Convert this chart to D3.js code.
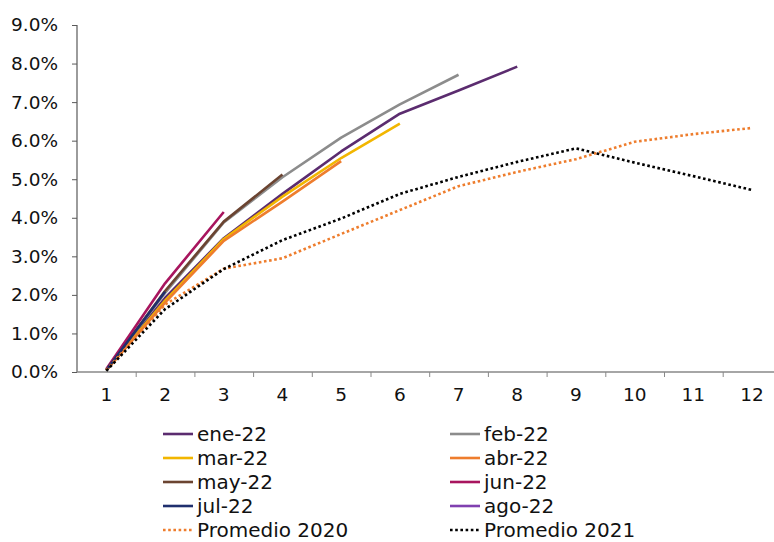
<!DOCTYPE html>
<html><head><meta charset="utf-8">
<script src="https://cdn.jsdelivr.net/npm/d3@7"></script>
<style>body{margin:0;background:#fff}svg{display:block}</style>
</head><body>
<svg id="chart" width="774" height="542"></svg>
<script>
const months = [1,2,3,4,5,6,7,8,9,10,11,12];
const yTicks = [0,1,2,3,4,5,6,7,8,9];
const seriesNames = ["ene-22","feb-22","mar-22","abr-22","may-22","jun-22","jul-22","ago-22","Promedio 2020","Promedio 2021"];
const ene22 = [0.05, 1.92, 3.47, 4.62, 5.72, 6.70, 7.30, 7.92];
const feb22 = [0.05, 2.05, 3.88, 5.05, 6.08, 6.94, 7.71];
const mar22 = [0.05, 1.85, 3.45, 4.55, 5.55, 6.44];
const abr22 = [0.05, 1.80, 3.40, 4.42, 5.47];
const may22 = [0.05, 2.10, 3.90, 5.12];
const jun22 = [0.08, 2.30, 4.15];
const jul22 = [0.05, 2.08];
const ago22 = [0.10];
const prom2020 = [0.05, 1.75, 2.68, 2.95, 3.58, 4.20, 4.82, 5.19, 5.52, 5.97, 6.17, 6.33];
const prom2021 = [0.03, 1.63, 2.67, 3.42, 3.98, 4.62, 5.06, 5.45, 5.80, 5.43, 5.08, 4.72];

const colors = ["#5B2C6F","#8C8C8C","#F2B600","#EE7D2D","#6B4431","#A8155E","#1F2F6E","#8040B0","#EE7D2D","#000000"];
const dashed = [false,false,false,false,false,false,false,false,true,true];
const allData = [ene22,feb22,mar22,abr22,may22,jun22,jul22,ago22,prom2020,prom2021];

const svg = d3.select("#chart");
const font = "'DejaVu Sans', Verdana, sans-serif";

const x = d3.scaleBand().domain(months).range([77, 781.4]);
const xb = d3.scaleLinear().domain([0.5, 12.5]).range([77, 781.4]);
const y = d3.scaleLinear().domain([0, 9]).range([372, 25]);

// y axis
const ya = svg.append("g").attr("transform","translate(77,0)")
  .call(d3.axisLeft(y).tickValues(yTicks).tickSize(5).tickPadding(14).tickFormat(d => d3.format(".1f")(d) + "%"));
ya.select(".domain").attr("stroke","#595959").attr("stroke-width",1.2).attr("d","M0,25V372");
ya.selectAll(".tick line").attr("stroke","#595959");
ya.selectAll("text").attr("font-family",font).attr("font-size","18.5px").attr("fill","#111");

// x axis boundary ticks
const xa = svg.append("g").attr("transform","translate(0,372)")
  .call(d3.axisBottom(xb).tickValues(d3.range(1.5, 12.5, 1)).tickSize(5).tickFormat(""));
xa.select(".domain").attr("stroke","#898989").attr("stroke-width",1.5).attr("d","M77,0H781");
xa.selectAll(".tick line").attr("stroke","#898989");

// x labels
const xl = svg.append("g").attr("transform","translate(0,372)")
  .call(d3.axisBottom(x).tickSize(0).tickPadding(16));
xl.select(".domain").remove();
xl.selectAll("text").attr("font-family",font).attr("font-size","18.5px").attr("fill","#111");

// lines
const line = d3.line().x((d,i) => x(months[i]) + x.bandwidth()/2).y(d => y(d));
allData.forEach((vals, k) => {
  const p = svg.append("path").datum(vals).attr("d", line)
    .attr("fill","none").attr("stroke",colors[k]).attr("stroke-width",2.6)
    .attr("stroke-linejoin","round");
  if (dashed[k]) p.attr("stroke-dasharray","2.6,2.6");
});

// legend
const lg = svg.append("g");
seriesNames.forEach((name, k) => {
  const col = k % 2, row = Math.floor(k / 2);
  const lx = col === 0 ? 163 : 450;
  const ly = 434 + row * 24;
  const l = lg.append("line").attr("x1", lx).attr("x2", lx + 30).attr("y1", ly).attr("y2", ly)
    .attr("stroke", colors[k]).attr("stroke-width", 2.6);
  if (dashed[k]) l.attr("stroke-dasharray","2.6,2.6");
  lg.append("text").attr("x", lx + 34).attr("y", ly + 7).text(name)
    .attr("font-family", font).attr("font-size","20px").attr("fill","#111");
});
</script>
</body></html>
